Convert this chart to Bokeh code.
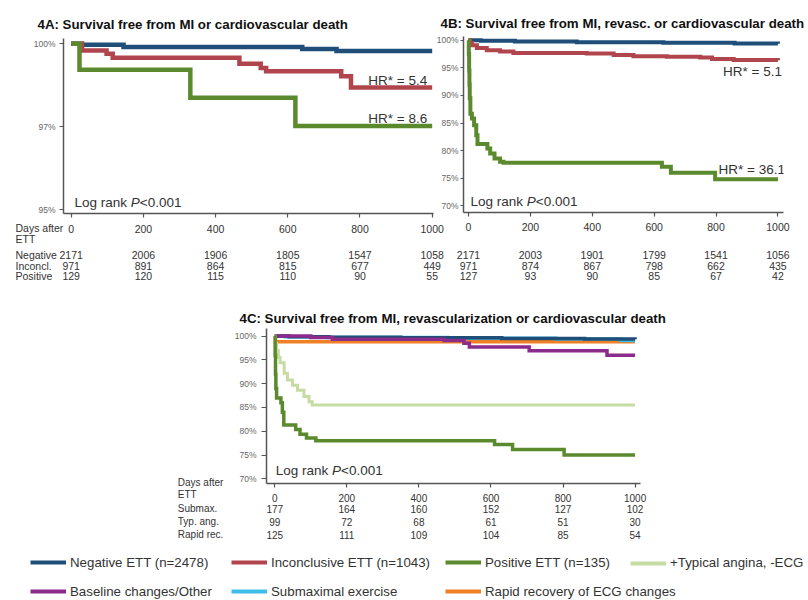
from bokeh.plotting import figure
from bokeh.models import (ColumnDataSource, Label, LabelSet, Legend, LegendItem,
                          FixedTicker, PrintfTickFormatter, Range1d, GridBox)
from bokeh.embed import file_html
from bokeh.resources import INLINE
from bokeh.core.properties import value

FONT = "Liberation Sans"
TXT = "#333333"
NAN = float("nan")

# ---------------- data ----------------
risk_days = [0, 200, 400, 600, 800, 1000]

# 4A: MI or cardiovascular death (survival %, step after each day)
a_neg_days = [0, 30, 145, 640, 735, 1000]
a_neg_surv = [100, 99.97, 99.9, 99.84, 99.78, 99.78]
a_inc_days = [0, 30, 98, 115, 466, 525, 540, 748, 775, 1000]
a_inc_surv = [100, 99.8, 99.7, 99.58, 99.4, 99.27, 99.17, 99.02, 98.68, 98.68]
a_pos_days = [0, 23, 330, 621, 1000]
a_pos_surv = [100, 99.22, 98.37, 97.52, 97.52]
a_risk_neg = [2171, 2006, 1906, 1805, 1547, 1058]
a_risk_inc = [971, 891, 864, 815, 677, 449]
a_risk_pos = [129, 120, 115, 110, 90, 55]
a_hr = ["HR* = 5.4", "HR* = 8.6"]

# 4B: MI, revasc. or cardiovascular death
b_neg_days = [0, 40, 150, 350, 630, 860, 1000]
b_neg_surv = [100, 99.88, 99.76, 99.64, 99.52, 99.4, 99.35]
b_inc_days = [0, 5, 11, 27, 59, 102, 145, 382, 469, 533, 641, 749, 787, 857, 1000]
b_inc_surv = [100, 99.5, 99.1, 98.6, 98.2, 97.95, 97.7, 97.6, 97.3, 97.1, 97.0, 96.85, 96.6, 96.4, 96.35]
b_pos_days = [0, 1, 2, 3, 4, 6, 11, 18, 25, 29, 61, 70, 84, 102, 113, 625, 654, 797, 1000]
b_pos_surv = [100, 97.5, 94.5, 92.0, 89.5, 86.7, 85.8, 84.6, 82.8, 81.2, 80.4, 79.5, 78.6, 78.0, 77.8,
              77.1, 76.0, 74.8, 74.8]
b_risk_neg = [2171, 2003, 1901, 1799, 1541, 1056]
b_risk_inc = [971, 874, 867, 798, 662, 435]
b_risk_pos = [127, 93, 90, 85, 67, 42]
b_hr = ["HR* = 5.1", "HR* = 36.1"]

# 4C: subgroups
c_neg_days = [0, 40, 150, 350, 630, 860, 1000]
c_neg_surv = [100, 99.88, 99.76, 99.64, 99.52, 99.4, 99.35]
c_pos_days = [0, 1, 2, 3, 5, 17, 21, 25, 58, 70, 88, 114, 610, 660, 803, 1000]
c_pos_surv = [100, 96, 92, 89, 87, 86, 84, 81.3, 80.4, 79.4, 78.6, 78.0, 77.2, 76.2, 75.0, 75.0]
c_ang_days = [0, 2, 5, 10, 15, 26, 35, 49, 63, 81, 95, 104, 1000]
c_ang_surv = [100, 98.5, 97, 95.5, 94.4, 92.2, 90.8, 89.7, 88.6, 87.3, 86.2, 85.5, 85.5]
c_oth_days = [0, 100, 160, 470, 525, 540, 706, 922, 1000]
c_oth_surv = [100, 99.7, 99.35, 99.1, 98.5, 97.7, 96.9, 96.0, 96.0]
c_sub_days = [0, 30, 150, 480, 780, 960, 1000]
c_sub_surv = [100, 99.85, 99.7, 99.55, 99.4, 99.1, 99.1]
c_rap_days = [0, 2, 1000]
c_rap_surv = [100, 98.8, 98.8]
c_risk_sub = [177, 164, 160, 152, 127, 102]
c_risk_ang = [99, 72, 68, 61, 51, 30]
c_risk_rap = [125, 111, 109, 104, 85, 54]

legend_labels = ["Negative ETT (n=2478)", "Inconclusive ETT (n=1043)", "Positive ETT (n=135)",
                 "+Typical angina, -ECG", "Baseline changes/Other", "Submaximal exercise",
                 "Rapid recovery of ECG changes"]

# ---------------- styles ----------------
COL_NEG = "#1F4E79"
COL_INC = "#B0454E"
COL_POS = "#5B8A2E"
COL_ANG = "#C6DCA2"
COL_OTH = "#8B2B8C"
COL_SUB = "#3DBDE8"
COL_RAP = "#F08025"
legend_colors = [COL_NEG, COL_INC, COL_POS, COL_ANG, COL_OTH, COL_SUB, COL_RAP]

PAGE_W, PAGE_H = 806, 599


def clear(p):
    p.border_fill_color = None
    p.background_fill_color = None
    p.outline_line_color = None
    p.grid.visible = False
    if "frame_align" in p.properties():
        p.frame_align = False


def panel(width, height, xr, yr, borders, title, t_off, t_stand, yticks, ytick_out, ystand, xstand,
          xsize="10.5px"):
    p = figure(width=width, height=height, x_range=Range1d(*xr), y_range=Range1d(*yr),
               output_backend="svg", toolbar_location=None, title=title,
               min_border_left=borders[0], min_border_right=borders[1],
               min_border_top=borders[2], min_border_bottom=borders[3])
    clear(p)
    p.title.text_font = FONT
    p.title.text_font_size = "13.3px"
    p.title.text_font_style = "bold"
    p.title.text_color = "#111111"
    p.title.align = "left"
    p.title.offset = t_off
    p.title.standoff = t_stand
    p.xaxis.ticker = FixedTicker(ticks=risk_days)
    p.yaxis.ticker = FixedTicker(ticks=yticks)
    p.yaxis.formatter = PrintfTickFormatter(format="%d%%")
    for ax in p.axis:
        ax.axis_line_color = "#555555"
        ax.axis_line_width = 1.5
        ax.major_tick_line_color = "#555555"
        ax.major_tick_line_width = 1.2
        ax.minor_tick_line_color = None
        ax.major_tick_in = 0
        ax.major_label_text_font = FONT
    p.xaxis.major_tick_out = 4
    p.xaxis.major_label_text_font_size = xsize
    p.xaxis.major_label_text_color = TXT
    p.xaxis.major_label_standoff = xstand
    p.yaxis.major_tick_out = ytick_out
    p.yaxis.major_label_text_font_size = "8.5px"
    p.yaxis.major_label_text_color = "#666666"
    p.yaxis.major_label_standoff = ystand
    return p


def table_fig(width, height, panel_fig, panel_left, panel_right):
    """Transparent figure (frame = whole canvas) whose x scale matches panel_fig's frame."""
    xr = panel_fig.x_range
    frame_w = panel_fig.width - panel_fig.min_border_left - panel_fig.min_border_right
    scale = frame_w / (xr.end - xr.start)
    t = figure(width=width, height=height,
               x_range=Range1d(xr.start - panel_left / scale, xr.end + panel_right / scale),
               y_range=Range1d(0, height), x_axis_type=None, y_axis_type=None,
               output_backend="svg", toolbar_location=None,
               min_border_left=0, min_border_right=0, min_border_top=0, min_border_bottom=0)
    clear(t)
    return t


def km(p, days, surv, color, width):
    return p.step(x=days, y=surv, mode="after", line_color=color, line_width=width,
                  line_join="miter")


def text_label(p, x, y, text, size="10.5px", align="left", style="normal",
               xu="screen", yu="screen", xo=0):
    p.add_layout(Label(x=x, y=y, x_units=xu, y_units=yu, text=text, x_offset=xo,
                       text_font=FONT, text_font_size=size, text_color=TXT,
                       text_align=align, text_baseline="middle", text_font_style=style))


def risk_rows(t, counts_list, row_y, size="10.5px"):
    for counts, y in zip(counts_list, row_y):
        src = ColumnDataSource(dict(day=risk_days, n=[str(c) for c in counts]))
        t.add_layout(LabelSet(x="day", y=y, text="n", source=src,
                              text_align="center", text_baseline="middle",
                              text_font=value(FONT), text_font_size=size, text_color=TXT))


def log_rank(p, x, y):
    text_label(p, x, y, "Log rank", size="13.5px")
    text_label(p, x + 56.3, y, "P", size="13.5px", style="italic")
    text_label(p, x + 65.3, y, "<0.001", size="13.5px")


# ---------------- 4A ----------------
pa = panel(446, 238, (-21.3, 1003.6), (94.88, 100.16), (63, 13, 36, 27),
           "4A: Survival free from MI or cardiovascular death", -26, 13,
           [95, 97.5, 100], 4, 4, 7)
km(pa, a_neg_days, a_neg_surv, COL_NEG, 4.5)
km(pa, a_inc_days, a_inc_surv, COL_INC, 4.5)
km(pa, a_pos_days, a_pos_surv, COL_POS, 4.5)
text_label(pa, 1000, a_inc_surv[-1] + 0.22, a_hr[0], size="13.5px", align="right",
           xu="data", yu="data", xo=-5)
text_label(pa, 1000, a_pos_surv[-1] + 0.23, a_hr[1], size="13.5px", align="right",
           xu="data", yu="data", xo=-5)
log_rank(pa, 11, 11.5)

ta = table_fig(446, 66, pa, 63, 13)
text_label(ta, 15, 58.5, "Days after")
text_label(ta, 15, 47.5, "ETT")
for name, y in zip(["Negative", "Inconcl.", "Positive"], [32, 21, 10.5]):
    text_label(ta, 15, y, name)
risk_rows(ta, [a_risk_neg, a_risk_inc, a_risk_pos], [32, 21, 10.5])

# ---------------- 4B ----------------
pb = panel(376, 238, (-16.2, 1018), (68.8, 100.67), (33, 23, 34, 28),
           "4B: Survival free from MI, revasc. or cardiovascular death", -23, 11,
           [70, 75, 80, 85, 90, 95, 100], 3, 2, 6)
km(pb, b_neg_days, b_neg_surv, COL_NEG, 4)
km(pb, b_inc_days, b_inc_surv, COL_INC, 4)
km(pb, b_pos_days, b_pos_surv, COL_POS, 4)
text_label(pb, 1000, b_inc_surv[-1] - 1.96, b_hr[0], size="13.5px", align="right",
           xu="data", yu="data", xo=4)
text_label(pb, 1000, b_pos_surv[-1] + 1.84, b_hr[1], size="13.5px", align="right",
           xu="data", yu="data", xo=7)
log_rank(pb, 7, 10.8)

tb = table_fig(376, 46, pb, 33, 23)
risk_rows(tb, [b_risk_neg, b_risk_inc, b_risk_pos], [32, 21, 10.5])

# ---------------- 4C ----------------
pc = panel(500, 205, (-23, 1015), (69.03, 101.6), (66, 60, 28, 22),
           "4C: Survival free from MI, revascularization or cardiovascular death", -27, 5.5,
           [70, 75, 80, 85, 90, 95, 100], 5, 5, 6, xsize="10px")
km(pc, c_rap_days, c_rap_surv, COL_RAP, 3.5)
km(pc, c_sub_days, c_sub_surv, COL_SUB, 3.5)
km(pc, c_neg_days, c_neg_surv, COL_NEG, 3.5)
km(pc, c_oth_days, c_oth_surv, COL_OTH, 3.5)
km(pc, c_ang_days, c_ang_surv, COL_ANG, 3)
km(pc, c_pos_days, c_pos_surv, COL_POS, 3.5)
log_rank(pc, 9.3, 13.4)

tc = table_fig(540, 73, pc, 106, 60)
text_label(tc, 17.3, 63.3, "Days after", size="10px")
text_label(tc, 17.3, 51, "ETT", size="10px")
for name, y in zip(["Submax.", "Typ. ang.", "Rapid rec."], [36.7, 24, 11]):
    text_label(tc, 17.3, y, name, size="10px")
risk_rows(tc, [c_risk_sub, c_risk_ang, c_risk_rap], [36.7, 24, 11], size="10px")

# ---------------- shared legend ----------------
lg = figure(width=PAGE_W, height=54, x_range=Range1d(0, 1), y_range=Range1d(0, 1),
            x_axis_type=None, y_axis_type=None, output_backend="svg", toolbar_location=None,
            min_border_left=0, min_border_right=0, min_border_top=0, min_border_bottom=0)
clear(lg)
# legend-key proxies (one undrawn point each, so that the legend shows their line style)
proxies = [lg.step(x=[NAN], y=[NAN], mode="after", line_color=c, line_width=4)
           for c in legend_colors]
leg_cols = [([0, 4], 30), ([1, 5], 231), ([2, 6], 445), ([3], 630)]
for idx, lx in leg_cols:
    items = [LegendItem(label=legend_labels[i], renderers=[proxies[i]]) for i in idx]
    ly = 0.3 if len(items) == 2 else 28.7
    lg.add_layout(Legend(items=items, location=(lx, ly), orientation="vertical",
                         glyph_width=36, glyph_height=14, label_height=14, label_standoff=4,
                         spacing=14, padding=0, margin=0, border_line_color=None,
                         background_fill_alpha=0, label_text_font=FONT,
                         label_text_font_size="13.3px", label_text_color=TXT))

# ---------------- page layout (1px grid tracks, children may overlap) ----------------
placement = [  # (figure, left, top)
    (pa, 0, 2), (pb, 430, 2), (pc, 200, 300),
    (ta, 0, 220), (tb, 430, 240), (tc, 160, 472), (lg, 0, 545),
]
children = [(f, top, left, f.height, f.width) for f, left, top in placement]
page = GridBox(children=children, cols=["1px"] * PAGE_W, rows=["1px"] * PAGE_H)

open("out.html", "w").write(file_html(page, INLINE))
